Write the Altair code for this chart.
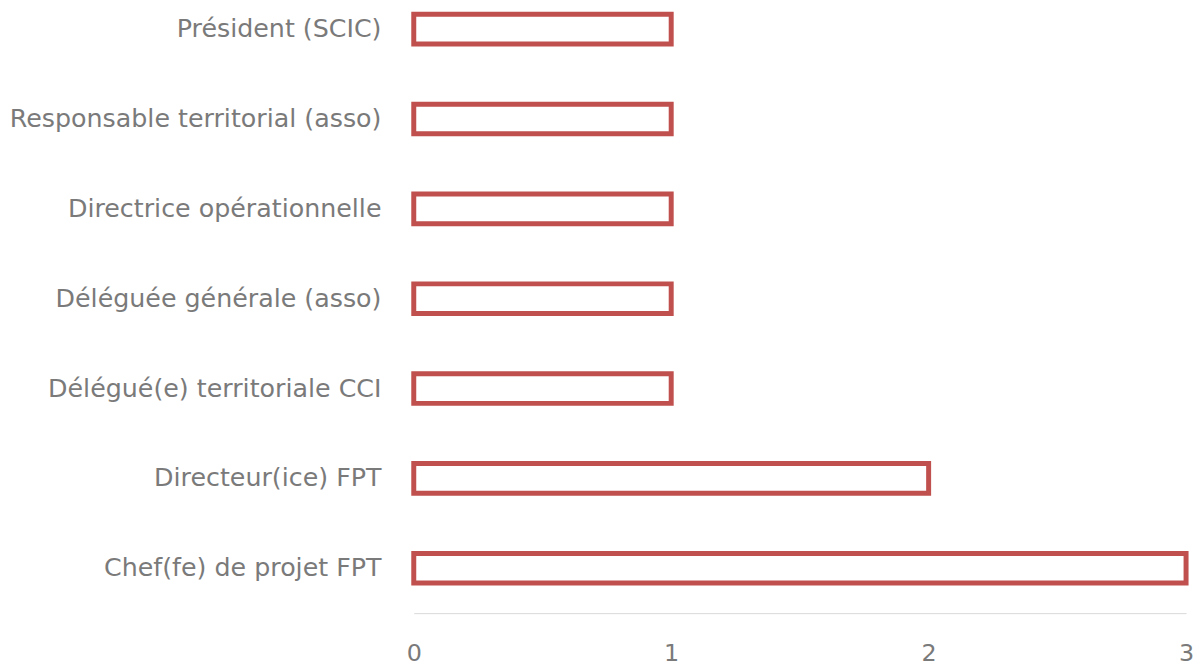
import altair as alt
import pandas as pd

categories = [
    "Président (SCIC)",
    "Responsable territorial (asso)",
    "Directrice opérationnelle",
    "Déléguée générale (asso)",
    "Délégué(e) territoriale CCI",
    "Directeur(ice) FPT",
    "Chef(fe) de projet FPT",
]
values = [1, 1, 1, 1, 1, 2, 3]
x_ticks = [0, 1, 2, 3]

df = pd.DataFrame({"role": categories, "n": values})

FONT = "DejaVu Sans"
TXT = "#7a7a7a"

chart = alt.Chart(df).mark_bar(
    fill="white", stroke="#C0504D", strokeWidth=5, strokeJoin="miter"
).encode(
    x=alt.X(
        "n:Q",
        scale=alt.Scale(domain=[0, 3], nice=False, zero=True),
        axis=alt.Axis(
            values=x_ticks, grid=False, ticks=False, domainColor="#d9d9d9",
            domainWidth=1, labelFontSize=24, labelColor=TXT, labelPadding=29,
            title=None, labelFont=FONT, format="d", labelFlush=False,
        ),
    ),
    y=alt.Y(
        "role:N", sort=categories,
        scale=alt.Scale(paddingInner=0.67, paddingOuter=0.19, align=0.12),
        axis=alt.Axis(
            domain=False, ticks=False, grid=False, title=None,
            labelFontSize=25.5, labelColor=TXT, labelPadding=33,
            labelLimit=400, labelFont=FONT,
        ),
    ),
).properties(
    width=777.5, height=607,
    autosize=alt.AutoSizeParams(type="none"),
    padding={"left": 408.5, "top": 0, "right": 9, "bottom": 52},
).configure_view(stroke=None)

chart.save("out.html", embed_options={"renderer": "svg", "actions": False})
